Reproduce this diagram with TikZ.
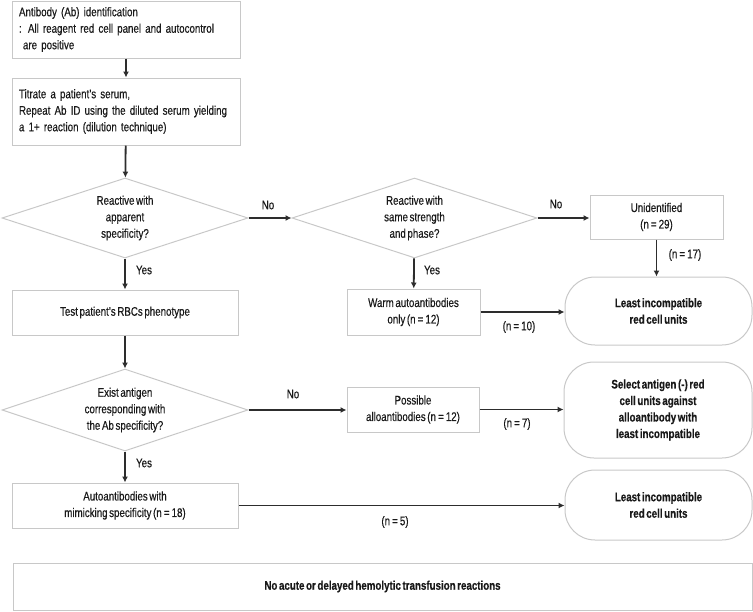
\documentclass[tikz,border=0pt]{standalone}
\usepackage{fontspec}
\setmainfont{Liberation Sans}[FakeStretch=0.78, WordSpace=0.6, FakeBold=0.4]
\usetikzlibrary{shapes.geometric,arrows.meta}

\definecolor{boxgray}{RGB}{200,200,200}
\definecolor{arrowgray}{RGB}{45,45,45}
\definecolor{txtgray}{RGB}{25,25,25}

\tikzset{box/.style = {draw=boxgray, line width=1pt, inner sep=0pt, text=txtgray,
                       font=\fontsize{12.5}{16.5}\selectfont, align=center},
         leftbox/.style = {box, text width=#1, align=left},
         leftbox/.default=214pt,
         question/.style = {box, diamond, aspect=3},
         ending/.style = {box, rounded corners=30pt, font=\fontsize{12.5}{16.5}\selectfont\bfseries},
         flow/.style = {draw=arrowgray, line width=1.8pt, -{Latex[length=6pt,width=6pt]}},
         tag/.style = {text=txtgray, font=\fontsize{12.5}{14}\selectfont, inner sep=0pt}
        }

\begin{document}
\begin{tikzpicture}[x=1pt, y=-1pt]
  \useasboundingbox (0, 0) rectangle (753, 611);
  % left column
  \node[leftbox, minimum width=228pt, minimum height=57pt] (ident) at (126, 29.5)
      {Antibody (Ab) identification\\: All reagent red cell panel and autocontrol\\\hspace*{4pt}are positive};
  \node[leftbox, minimum width=228pt, minimum height=67pt] (titrate) at (126, 111.5)
      {Titrate a patient’s serum,\\Repeat Ab ID using the diluted serum yielding\\a 1+ reaction (dilution technique)};
  \node[question, minimum width=246pt, minimum height=80pt] (apparent) at (125, 218)
      {Reactive with\\apparent\\specificity?};
  \node[box, minimum width=226pt, minimum height=45pt] (phenotype) at (125, 312.5)
      {Test patient’s RBCs phenotype};
  \node[question, minimum width=246pt, minimum height=82pt] (antigen) at (125, 410)
      {Exist antigen\\corresponding with\\the Ab specificity?};
  \node[box, minimum width=226pt, minimum height=45pt] (mimick) at (125, 505.5)
      {Autoantibodies with\\mimicking specificity (n\,=\,18)};
  % middle column
  \node[question, minimum width=245pt, minimum height=80pt] (strength) at (414.5, 218)
      {Reactive with\\same strength\\and phase?};
  \node[box, minimum width=133pt, minimum height=46pt] (warm) at (413.5, 312)
      {Warm autoantibodies\\only (n\,=\,12)};
  \node[box, minimum width=132pt, minimum height=45pt] (allo) at (413, 409.5)
      {Possible\\alloantibodies (n\,=\,12)};
  % right column
  \node[box, minimum width=133pt, minimum height=44pt] (unident) at (656.5, 217)
      {Unidentified\\(n\,=\,29)};
  \node[ending, minimum width=187pt, minimum height=68pt] (least1) at (658.5, 311)
      {Least incompatible\\red cell units};
  \node[ending, minimum width=188pt, minimum height=96pt] (select) at (658, 410)
      {Select antigen (-) red\\cell units against\\alloantibody with\\least incompatible};
  \node[ending, minimum width=187pt, minimum height=70pt] (least2) at (658.5, 505)
      {Least incompatible\\red cell units};
  \node[ending, rounded corners=0pt, minimum width=739pt, minimum height=47pt] (outcome) at (382.5, 586.5)
      {No acute or delayed hemolytic transfusion reactions};

  \draw[flow] (ident) -- (titrate);
  \draw[flow] (titrate) -- (apparent);
  \draw[flow] (apparent) -- (phenotype);
  \draw[flow] (phenotype) -- (antigen);
  \draw[flow] (antigen) -- (mimick);
  \draw[flow] (apparent.east) -- (strength.west);
  \draw[flow] (strength.east) -- (strength.east -| unident.west);
  \draw[flow] (strength) -- (warm);
  \draw[flow] (unident.south) -- (unident.south |- least1.north);
  \draw[flow] (warm.east) -- (warm.east -| least1.west);
  \draw[flow] (antigen.east) -- (antigen.east -| allo.west);
  \draw[flow] (allo.east) -- (allo.east -| select.west);
  \draw[flow] (mimick.east) -- (mimick.east -| least2.west);

  \foreach \x/\y/\txt in {268/205/No, 144/270/Yes, 293/394/No, 144/463/Yes,
                          556/204/No, 432/270/Yes}
      {\node[tag] at (\x, \y) {\txt};};
  \foreach \x/\y/\n in {685/255/17, 519/327/10, 517/424/7, 395/522/5}
      {\node[tag] at (\x, \y) {(n\,=\,\n)};};
\end{tikzpicture}
\end{document}
